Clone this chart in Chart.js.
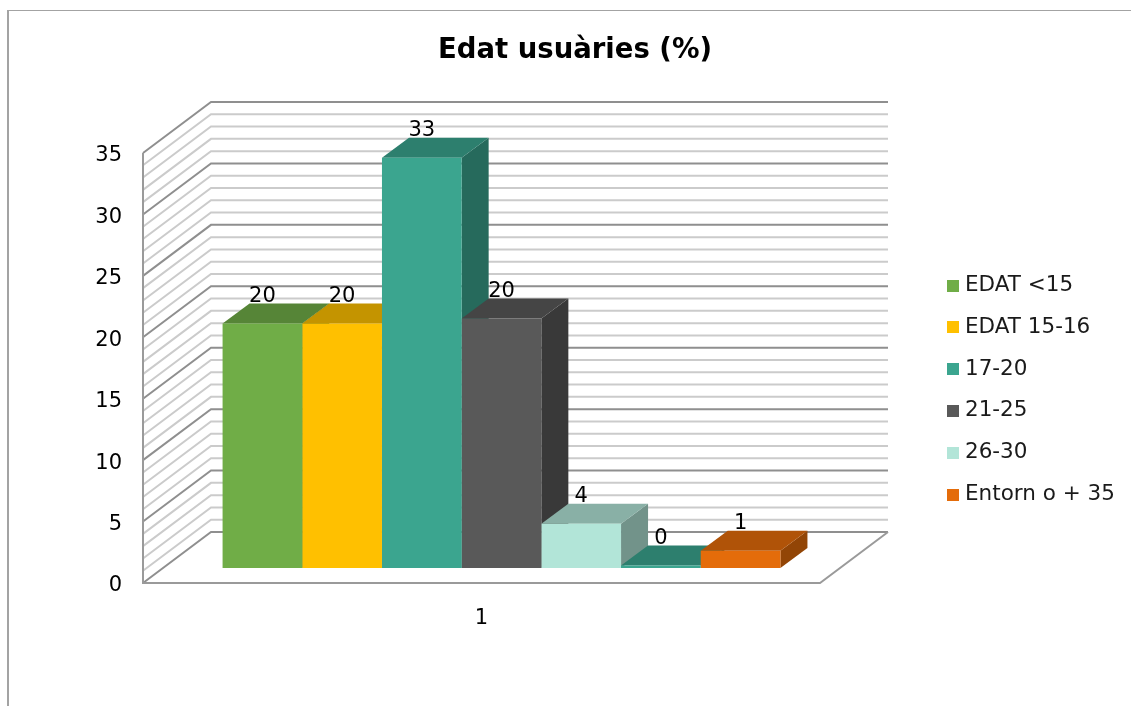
<!DOCTYPE html>
<html>
<head>
<meta charset="utf-8">
<title>Edat usuàries (%)</title>
<script src="https://cdn.jsdelivr.net/npm/chart.js@4"></script>
<style>
    html, body { margin: 0; padding: 0; background: #fff; overflow: hidden; }
    #frame { position: absolute; left: 7px; top: 10px; width: 1131px; height: 706px; border-left: 2px solid #a3a3a3; border-top: 1px solid #a3a3a3; }
    #chart { position: absolute; left: 0; top: 0; }
</style>
</head>
<body>
<div id="frame"></div>
<canvas id="chart" width="1131" height="706"></canvas>
<script>
var categories = ['1'];
var seriesNames = ['EDAT <15', 'EDAT 15-16', '17-20', '21-25', '26-30', '', 'Entorn o + 35'];
var seriesValues = [19.9, 19.9, 33.4, 20.3, 3.6, 0.2, 1.4];
var seriesColors = ['#70AD47', '#FFC000', '#3BA58F', '#595959', '#B2E5D8', '#3BA58F', '#E46C0A'];

var fontFamily = '"DejaVu Sans", Verdana, sans-serif';

// Depth of the walls and of the bars, in pixels
var wallDepth = { x: 68, y: 51 };
var barOffset = { x: 20, y: 15 };
var barDepth = { x: 27, y: 20 };

function shade(hex, k) {
    var r = parseInt(hex.substr(1, 2), 16);
    var g = parseInt(hex.substr(3, 2), 16);
    var b = parseInt(hex.substr(5, 2), 16);
    return 'rgb(' + Math.round(r * k) + ',' + Math.round(g * k) + ',' + Math.round(b * k) + ')';
}

function line(ctx, points, color, width) {
    ctx.beginPath();
    ctx.moveTo(points[0][0], points[0][1]);
    for (var i = 1; i < points.length; i++) {
        ctx.lineTo(points[i][0], points[i][1]);
    }
    ctx.strokeStyle = color;
    ctx.lineWidth = width;
    ctx.stroke();
}

function face(ctx, points, color) {
    ctx.beginPath();
    ctx.moveTo(points[0][0], points[0][1]);
    for (var i = 1; i < points.length; i++) {
        ctx.lineTo(points[i][0], points[i][1]);
    }
    ctx.closePath();
    ctx.fillStyle = color;
    ctx.fill();
}

// Legend square as a small canvas, so the gap before the text can be tightened
function swatch(color) {
    var c = document.createElement('canvas');
    c.width = 12;
    c.height = 12;
    var g = c.getContext('2d');
    g.fillStyle = color;
    g.fillRect(0, 0, 12, 12);
    return c;
}

// Draws the 3D walls, the bar tops and sides, and the value labels
var box3d = {
    id: 'box3d',
    afterInit: function(chart) {
        var fit = chart.legend.fit;
        chart.legend.fit = function() {
            fit.call(this);
            this.width = 311;
        };
    },
    afterLayout: function(chart) {
        var legend = chart.legend;
        var pad = legend.options.labels.padding;
        legend.left = 951.75 - pad;
        legend.top = 274.75 - pad;
        chart.titleBlock.left += 19;
    },
    beforeDraw: function(chart) {
        // tick labels sit a bit lower than their lines in the reference
        chart.scales.y.getLabelItems().forEach(function(item) {
            item.options.translation[1] += 3;
        });
    },
    beforeDatasetsDraw: function(chart) {
        var ctx = chart.ctx;
        var y = chart.scales.y;
        var area = chart.chartArea;

        ctx.save();
        // minor lines first so the major ones sit on top
        [false, true].forEach(function(major) {
            for (var v = 0; v <= 35; v++) {
                if ((v % 5 === 0) !== major) continue;
                var py = y.getPixelForValue(v);
                line(ctx, [
                    [area.left, py],
                    [area.left + wallDepth.x, py - wallDepth.y],
                    [area.right + wallDepth.x, py - wallDepth.y]
                ], major ? '#8f8f8f' : '#cbcbcb', 2);
            }
        });

        // floor edges and front axis
        var y0 = y.getPixelForValue(0);
        line(ctx, [
            [area.left, y.getPixelForValue(35)],
            [area.left, y0],
            [area.right, y0],
            [area.right + wallDepth.x, y0 - wallDepth.y]
        ], '#9a9a9a', 2);

        // bars sit a little behind the front of the floor
        ctx.translate(barOffset.x, -barOffset.y);
        chart.data.datasets.forEach(function(ds, i) {
            var bar = chart.getDatasetMeta(i).data[0];
            var left = bar.x - bar.width / 2;
            var right = bar.x + bar.width / 2;
            face(ctx, [
                [right, bar.y],
                [right + barDepth.x, bar.y - barDepth.y],
                [right + barDepth.x, bar.base - barDepth.y],
                [right, bar.base]
            ], shade(seriesColors[i], 0.64));
            face(ctx, [
                [left, bar.y],
                [left + barDepth.x, bar.y - barDepth.y],
                [right + barDepth.x, bar.y - barDepth.y],
                [right, bar.y]
            ], shade(seriesColors[i], 0.77));
        });
    },
    afterDatasetsDraw: function(chart) {
        var ctx = chart.ctx;
        ctx.fillStyle = '#000';
        ctx.font = '21px ' + fontFamily;
        ctx.textAlign = 'center';
        ctx.textBaseline = 'middle';
        chart.data.datasets.forEach(function(ds, i) {
            var bar = chart.getDatasetMeta(i).data[0];
            ctx.fillText(String(Math.round(ds.data[0])), bar.x, bar.y - 27);
        });
        ctx.restore();
    }
};

var datasets = seriesNames.map(function(name, i) {
    return {
        label: name,
        data: [seriesValues[i]],
        backgroundColor: seriesColors[i],
        borderWidth: 0
    };
});

var chart = new Chart(document.getElementById('chart').getContext('2d'), {
    type: 'bar',
    data: { labels: categories, datasets: datasets },
    plugins: [box3d],
    options: {
        responsive: false,
        animation: false,
        categoryPercentage: 0.824,
        barPercentage: 1,
        layout: { padding: 0 },
        plugins: {
            tooltip: { enabled: false },
            title: {
                display: true,
                text: 'Edat usuàries (%)',
                color: '#000',
                font: { family: fontFamily, size: 27.5, weight: 'bold' },
                padding: { top: 34, bottom: 86 }
            },
            legend: {
                position: 'right',
                align: 'start',
                labels: {
                    usePointStyle: true,
                    pointStyleWidth: 2.5,
                    boxHeight: 12,
                    padding: 20.3,
                    color: '#1a1a1a',
                    font: { family: fontFamily, size: 21.5 },
                    generateLabels: function(chart) {
                        var items = Chart.defaults.plugins.legend.labels.generateLabels(chart);
                        items.forEach(function(item) {
                            item.pointStyle = swatch(item.fillStyle);
                        });
                        return items;
                    },
                    filter: function(item) { return item.text !== ''; }
                }
            }
        },
        scales: {
            x: {
                grid: { display: false, drawTicks: false },
                border: { display: false },
                ticks: { color: '#000', padding: 23, font: { family: fontFamily, size: 21 } },
                afterFit: function(scale) { scale.height = 123; }
            },
            y: {
                min: 0,
                max: 35,
                grid: { display: false, drawTicks: false },
                border: { display: false },
                ticks: { stepSize: 5, color: '#000', padding: 21, font: { family: fontFamily, size: 21 } },
                afterFit: function(scale) { scale.width = 143; }
            }
        }
    }
});
</script>
</body>
</html>
